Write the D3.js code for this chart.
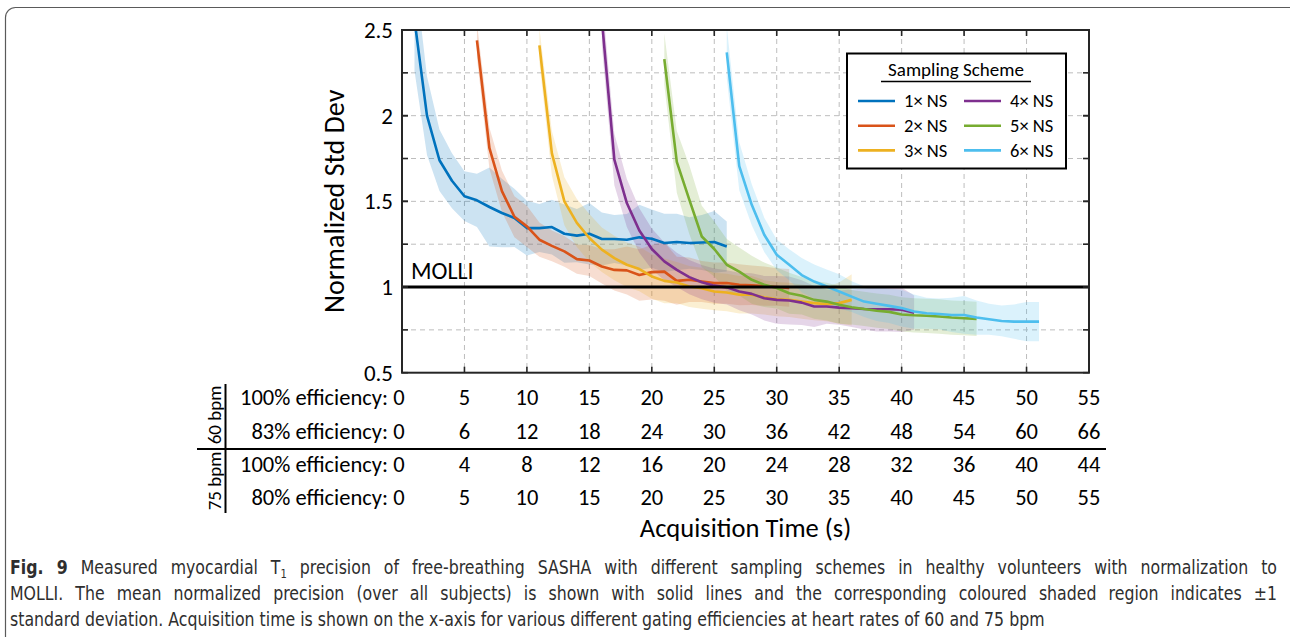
<!DOCTYPE html>
<html>
<head>
<meta charset="utf-8">
<script src="https://cdn.jsdelivr.net/npm/d3@7"></script>
<style>
  body { margin: 0; background: #fff; }
  svg { display: block; }
</style>
</head>
<body>
<div id="chart"></div>
<script>
// ---- data (1 s sampling for every scheme) ----
var schemeNames = ["1\u00d7 NS", "2\u00d7 NS", "3\u00d7 NS", "4\u00d7 NS", "5\u00d7 NS", "6\u00d7 NS"];
var schemeColors = ["#0072BD", "#D95319", "#EDB120", "#7E2F8E", "#77AC30", "#4DBEEE"];
var startTimes = [1, 6, 11, 16, 21, 26];

var mean1 = [2.56, 2.0, 1.74, 1.62, 1.53, 1.506, 1.467, 1.432, 1.403, 1.344, 1.344, 1.35, 1.311, 1.30, 1.311, 1.28, 1.28, 1.276, 1.29, 1.282, 1.257, 1.263, 1.257, 1.26, 1.263, 1.237];
var sd1   = [0.3, 0.23, 0.18, 0.16, 0.145, 0.155, 0.23, 0.2, 0.17, 0.16, 0.14, 0.16, 0.17, 0.155, 0.18, 0.155, 0.14, 0.15, 0.19, 0.17, 0.17, 0.165, 0.15, 0.16, 0.18, 0.146];
var mean2 = [2.44, 1.81, 1.56, 1.41, 1.354, 1.276, 1.24, 1.208, 1.163, 1.155, 1.12, 1.10, 1.097, 1.07, 1.087, 1.09, 1.036, 1.042, 1.032, 1.023, 1.023, 1.013, 1.01, 1.005, 1.0, 0.995];
var sd2   = [0.1, 0.12, 0.12, 0.12, 0.12, 0.1, 0.09, 0.09, 0.085, 0.09, 0.1, 0.12, 0.14, 0.15, 0.16, 0.17, 0.14, 0.13, 0.12, 0.12, 0.12, 0.12, 0.115, 0.115, 0.11, 0.11];
var mean3 = [2.41, 1.78, 1.5, 1.374, 1.286, 1.218, 1.169, 1.13, 1.105, 1.062, 1.036, 1.026, 1.003, 0.993, 0.974, 0.968, 0.955, 0.955, 0.94, 0.929, 0.925, 0.915, 0.906, 0.9, 0.906, 0.925];
var sd3   = [0.1, 0.13, 0.14, 0.14, 0.14, 0.13, 0.13, 0.13, 0.13, 0.13, 0.13, 0.12, 0.12, 0.12, 0.11, 0.11, 0.11, 0.11, 0.1, 0.1, 0.1, 0.1, 0.1, 0.1, 0.12, 0.15];
var mean4 = [2.56, 1.744, 1.49, 1.33, 1.222, 1.15, 1.1, 1.058, 1.028, 1.008, 0.998, 0.974, 0.96, 0.935, 0.925, 0.921, 0.909, 0.886, 0.886, 0.88, 0.876, 0.872, 0.87, 0.87, 0.867, 0.85];
var sd4   = [0.15, 0.15, 0.14, 0.13, 0.12, 0.11, 0.1, 0.1, 0.1, 0.1, 0.1, 0.11, 0.12, 0.13, 0.14, 0.14, 0.13, 0.12, 0.1, 0.1, 0.11, 0.12, 0.13, 0.13, 0.13, 0.1];
var mean5 = [2.33, 1.73, 1.51, 1.295, 1.222, 1.13, 1.09, 1.042, 1.013, 0.994, 0.964, 0.949, 0.925, 0.915, 0.896, 0.882, 0.872, 0.862, 0.855, 0.84, 0.835, 0.832, 0.828, 0.822, 0.818, 0.814];
var sd5   = [0.15, 0.18, 0.2, 0.18, 0.16, 0.15, 0.14, 0.14, 0.13, 0.12, 0.12, 0.11, 0.11, 0.11, 0.11, 0.1, 0.1, 0.1, 0.1, 0.1, 0.1, 0.1, 0.1, 0.1, 0.1, 0.1];
var mean6 = [2.37, 1.705, 1.48, 1.305, 1.188, 1.13, 1.07, 1.032, 1.003, 0.974, 0.944, 0.915, 0.902, 0.89, 0.877, 0.857, 0.847, 0.843, 0.837, 0.837, 0.822, 0.812, 0.802, 0.798, 0.798, 0.798];
var sd6   = [0.15, 0.14, 0.12, 0.1, 0.09, 0.09, 0.1, 0.1, 0.1, 0.1, 0.09, 0.09, 0.1, 0.1, 0.107, 0.1, 0.09, 0.09, 0.1, 0.11, 0.1, 0.09, 0.09, 0.1, 0.115, 0.115];

var molliLevel = 1;
var yTicks = [0.5, 1, 1.5, 2, 2.5];
var yGrid = [0.75, 1.25, 1.5, 1.75, 2, 2.25];
var xTicks = [0, 5, 10, 15, 20, 25, 30, 35, 40, 45, 50, 55];

var rowBpm = ["60 bpm", "75 bpm"];
var rowLabels = ["100% efficiency:", "83% efficiency:", "100% efficiency:", "80% efficiency:"];
var row60a = [0, 5, 10, 15, 20, 25, 30, 35, 40, 45, 50, 55];
var row60b = [0, 6, 12, 18, 24, 30, 36, 42, 48, 54, 60, 66];
var row75a = [0, 4, 8, 12, 16, 20, 24, 28, 32, 36, 40, 44];
var row75b = [0, 5, 10, 15, 20, 25, 30, 35, 40, 45, 50, 55];

var captionLines = [
  " Measured myocardial T",
  "MOLLI. The mean normalized precision (over all subjects) is shown with solid lines and the corresponding coloured shaded region indicates \u00b11",
  "standard deviation. Acquisition time is shown on the x-axis for various different gating efficiencies at heart rates of 60 and 75 bpm"
];

var means = [mean1, mean2, mean3, mean4, mean5, mean6];
var sds = [sd1, sd2, sd3, sd4, sd5, sd6];

// ---- layout ----
var W = 1290, H = 637;
var font = "Carlito, Lato, sans-serif";
var capFont = "'DejaVu Sans', sans-serif";
var pl = 402, pr = 1089, pt = 30, pb = 372.7;

var svg = d3.select("#chart").append("svg").attr("width", W).attr("height", H);

// outer rounded frame
svg.append("rect")
  .attr("x", 5.5).attr("y", 7.5).attr("width", W + 20).attr("height", H + 20)
  .attr("rx", 10).attr("fill", "none").attr("stroke", "#5a5a5a").attr("stroke-width", 1.2);

var x = d3.scaleLinear().domain([0, 55]).range([pl, pr]);
var y = d3.scaleLinear().domain([0.5, 2.5]).range([pb, pt]);

// grid
var grid = svg.append("g").attr("stroke", "#bdbdbd").attr("stroke-width", 1).attr("stroke-dasharray", "5,4");
grid.selectAll("line.gx").data(xTicks.slice(1, -1)).enter().append("line")
  .attr("x1", function(d) { return x(d); }).attr("x2", function(d) { return x(d); })
  .attr("y1", pt).attr("y2", pb);
grid.selectAll("line.gy").data(yGrid).enter().append("line")
  .attr("y1", function(d) { return y(d); }).attr("y2", function(d) { return y(d); })
  .attr("x1", pl).attr("x2", pr);

svg.append("clipPath").attr("id", "plotclip").append("rect")
  .attr("x", pl).attr("y", pt).attr("width", pr - pl).attr("height", pb - pt);

var plot = svg.append("g").attr("clip-path", "url(#plotclip)");

var series = means.map(function(m, k) {
  return m.map(function(v, i) { return { t: startTimes[k] + i, m: v, s: sds[k][i] }; });
});

var area = d3.area()
  .x(function(d) { return x(d.t); })
  .y0(function(d) { return y(d.m - d.s); })
  .y1(function(d) { return y(d.m + d.s); });
var line = d3.line()
  .x(function(d) { return x(d.t); })
  .y(function(d) { return y(d.m); });

plot.selectAll("path.band").data(series).enter().append("path")
  .attr("class", "band")
  .attr("d", area)
  .attr("fill", function(d, i) { return schemeColors[i]; })
  .attr("fill-opacity", 0.2);

plot.selectAll("path.mean").data(series).enter().append("path")
  .attr("class", "mean")
  .attr("d", line)
  .attr("fill", "none")
  .attr("stroke", function(d, i) { return schemeColors[i]; })
  .attr("stroke-width", 2.6)
  .attr("stroke-linejoin", "round");

// MOLLI reference
svg.append("line")
  .attr("x1", pl).attr("x2", pr).attr("y1", y(molliLevel)).attr("y2", y(molliLevel))
  .attr("stroke", "#000").attr("stroke-width", 3);
svg.append("text").attr("x", pl + 9).attr("y", y(molliLevel) - 8)
  .attr("font-family", font).attr("font-size", 24).text("MOLLI");

// axes box + inward ticks
var axisCol = "#262626";
var tk = svg.append("g").attr("stroke", axisCol).attr("stroke-width", 1.6);
var yTickAll = yGrid.concat(yTicks);
yTickAll.forEach(function(v) {
  tk.append("line").attr("x1", pl).attr("x2", pl + 6).attr("y1", y(v)).attr("y2", y(v));
  tk.append("line").attr("x1", pr).attr("x2", pr - 6).attr("y1", y(v)).attr("y2", y(v));
});
xTicks.forEach(function(v) {
  tk.append("line").attr("x1", x(v)).attr("x2", x(v)).attr("y1", pt).attr("y2", pt + 6);
  tk.append("line").attr("x1", x(v)).attr("x2", x(v)).attr("y1", pb).attr("y2", pb - 6);
});
svg.append("rect").attr("x", pl).attr("y", pt).attr("width", pr - pl).attr("height", pb - pt)
  .attr("fill", "none").attr("stroke", axisCol).attr("stroke-width", 2);

// y tick labels
svg.selectAll("text.ytl").data(yTicks).enter().append("text")
  .attr("x", pl - 9).attr("y", function(d) { return y(d); })
  .attr("dy", "0.35em").attr("text-anchor", "end")
  .attr("font-family", font).attr("font-size", 23).attr("fill", "#000")
  .text(function(d) { return d3.format("")(d); });

svg.append("text")
  .attr("transform", "translate(344," + ((pt + pb) / 2) + ") rotate(-90)")
  .attr("text-anchor", "middle")
  .attr("font-family", font).attr("font-size", 28).attr("fill", "#000")
  .text("Normalized Std Dev");

// legend
var lg = svg.append("g");
lg.append("rect").attr("x", 847).attr("y", 53.5).attr("width", 219).attr("height", 115)
  .attr("fill", "#fff").attr("stroke", "#000").attr("stroke-width", 2);
lg.append("text").attr("x", 956).attr("y", 76).attr("text-anchor", "middle")
  .attr("font-family", font).attr("font-size", 19).text("Sampling Scheme");
lg.append("line").attr("x1", 881).attr("x2", 1031).attr("y1", 81.5).attr("y2", 81.5)
  .attr("stroke", "#000").attr("stroke-width", 1.5);
schemeNames.forEach(function(name, i) {
  var col = Math.floor(i / 3), row = i % 3;
  var lx = col === 0 ? 858 : 964;
  var ly = 101 + row * 24.7;
  lg.append("line").attr("x1", lx).attr("x2", lx + 37).attr("y1", ly).attr("y2", ly)
    .attr("stroke", schemeColors[i]).attr("stroke-width", 2.6);
  lg.append("text").attr("x", lx + 46).attr("y", ly).attr("dy", "0.35em")
    .attr("font-family", font).attr("font-size", 18.5).text(name);
});

// acquisition-time table under the axis
var rows = [row60a, row60b, row75a, row75b];
var rowY = [397, 431, 464.5, 497.5];
var tbl = svg.append("g").attr("font-family", font).attr("font-size", 22.5).attr("fill", "#000");
rows.forEach(function(vals, r) {
  tbl.append("text").attr("x", pl - 14).attr("y", rowY[r]).attr("dy", "0.35em")
    .attr("text-anchor", "end").text(rowLabels[r]);
  tbl.selectAll("text.v" + r).data(vals).enter().append("text")
    .attr("x", function(d, i) { return x(xTicks[i]) - (i === 0 ? 3 : 0); })
    .attr("y", rowY[r]).attr("dy", "0.35em").attr("text-anchor", "middle")
    .text(function(d) { return d; });
});
svg.append("line").attr("x1", 225.5).attr("x2", 225.5).attr("y1", 384).attr("y2", 513)
  .attr("stroke", "#000").attr("stroke-width", 2);
svg.append("line").attr("x1", 197).attr("x2", 1106).attr("y1", 449).attr("y2", 449)
  .attr("stroke", "#000").attr("stroke-width", 2);
[[415, rowBpm[0]], [481, rowBpm[1]]].forEach(function(p) {
  svg.append("text")
    .attr("transform", "translate(214," + p[0] + ") rotate(-90)")
    .attr("text-anchor", "middle").attr("dy", "0.35em")
    .attr("font-family", font).attr("font-size", 19).attr("fill", "#000")
    .text(p[1]);
});

svg.append("text").attr("x", (pl + pr) / 2).attr("y", 529).attr("dy", "0.32em")
  .attr("text-anchor", "middle").attr("font-family", font).attr("font-size", 26.5).attr("fill", "#000")
  .text("Acquisition Time (s)");

// caption: wide font squeezed horizontally (the original uses a condensed face);
// the last line sets the squeeze, the first two are justified by widening the word gaps
var cap = svg.append("g").attr("font-family", capFont).attr("font-size", 19).attr("fill", "#2e2e2e");
var c1 = cap.append("text").attr("x", 0).attr("y", 574);
c1.append("tspan").attr("font-weight", "bold").text("Fig. 9");
c1.append("tspan").text(captionLines[0]);
c1.append("tspan").attr("font-size", 12).attr("dy", 4).text("1");
c1.append("tspan").attr("dy", -4).text(" precision of free-breathing SASHA with different sampling schemes in healthy volunteers with normalization to");
var c2 = cap.append("text").attr("x", 0).attr("y", 600).text(captionLines[1]);
var c3 = cap.append("text").attr("x", 0).attr("y", 626).text(captionLines[2]);
var capScale = 1035 / c3.node().getComputedTextLength();
cap.attr("transform", "translate(10,0) scale(" + capScale + ",1)");
[c1, c2].forEach(function(t) {
  var target = 1267 / capScale;
  var natural = t.node().getComputedTextLength();
  var gaps = (t.text().match(/ /g) || []).length;
  if (natural < target && gaps > 0) {
    t.attr("word-spacing", (target - natural) / gaps);
  } else {
    t.attr("textLength", target).attr("lengthAdjust", "spacingAndGlyphs");
  }
});
</script>
</body>
</html>
